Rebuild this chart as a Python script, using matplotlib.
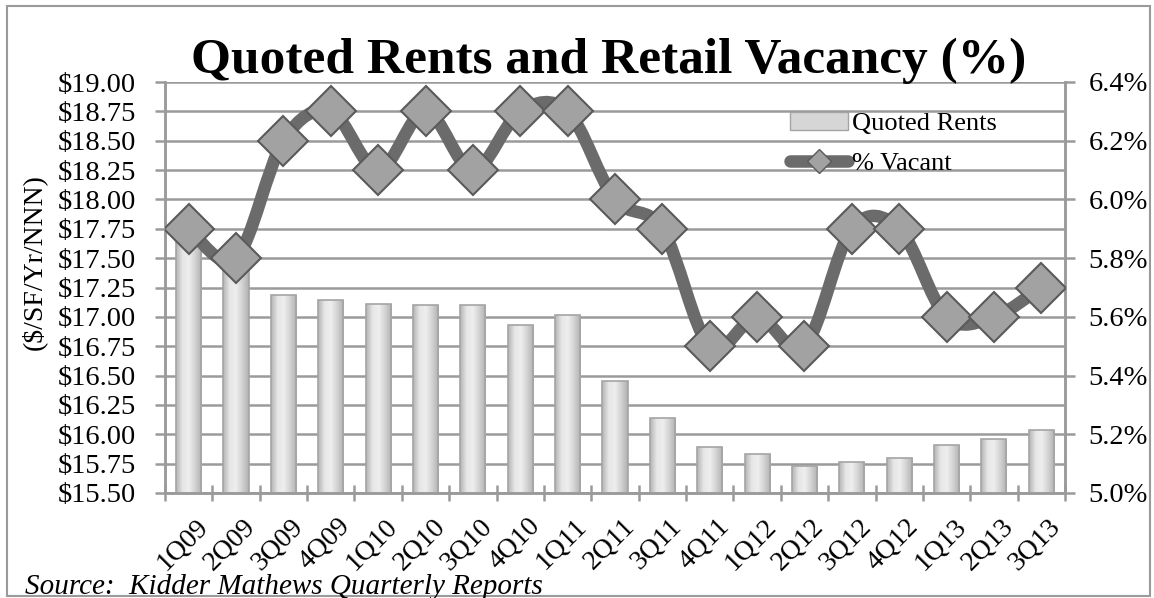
import numpy as np
import matplotlib.pyplot as plt
from matplotlib.path import Path
from matplotlib.patches import PathPatch, Patch, Rectangle
from matplotlib.lines import Line2D
from matplotlib.ticker import FuncFormatter, FixedLocator
from matplotlib.colors import LinearSegmentedColormap
from matplotlib.transforms import ScaledTranslation

# data
quarters = ['1Q09', '2Q09', '3Q09', '4Q09', '1Q10', '2Q10', '3Q10', '4Q10', '1Q11', '2Q11',
            '3Q11', '4Q11', '1Q12', '2Q12', '3Q12', '4Q12', '1Q13', '2Q13', '3Q13']
quoted_rents = [17.76, 17.54, 17.19, 17.14, 17.11, 17.10, 17.10, 16.93, 17.02, 16.45,
                16.14, 15.89, 15.83, 15.73, 15.76, 15.80, 15.91, 15.96, 16.04]
pct_vacant = [5.9, 5.8, 6.2, 6.3, 6.1, 6.3, 6.1, 6.3, 6.3, 6.0,
              5.9, 5.5, 5.6, 5.5, 5.9, 5.9, 5.6, 5.6, 5.7]

plt.rcParams['font.family'] = ['Liberation Serif', 'DejaVu Serif']

W, H = 1154, 598
fig = plt.figure(figsize=(W / 100, H / 100), dpi=100)
ax = fig.add_axes([165 / W, 1 - 493 / H, 900 / W, 411 / H])
ax2 = ax.twinx()

grid_c = '#9a9a9a'
x = np.arange(len(quarters))

# bars with a soft horizontal gradient
bars = ax.bar(x, np.array(quoted_rents) - 15.5, bottom=15.5, width=0.53, color='#d6d6d6',
              edgecolor='#a4a4a4', linewidth=1.2, zorder=3)
bar_cmap = LinearSegmentedColormap.from_list('bar', ['#b4b4b4', '#e6e6e6', '#eeeeee', '#d2d2d2', '#b0b0b0'])
grad = np.linspace(0, 1, 64).reshape(1, -1)
for b in bars:
    im = ax.imshow(grad, cmap=bar_cmap, aspect='auto', zorder=3.1,
                   extent=(b.get_x(), b.get_x() + b.get_width(), b.get_y(), b.get_y() + b.get_height()))
    im.set_clip_path(b)
    b.set_facecolor('none')
    b.set_zorder(3.2)
ax.set_xlim(-0.5, len(quarters) - 0.5)
ax.set_ylim(15.5, 19.0)
ax.set_yticks(np.arange(15.5, 19.01, 0.25))
ax.yaxis.set_major_formatter(FuncFormatter(lambda v, p: f'${v:.2f}'))
ax.grid(axis='y', color=grid_c, linewidth=1.8, zorder=0)
ax.set_axisbelow(True)

# smoothed vacancy line (bezier through the data points)
pts = np.column_stack([x, pct_vacant])
verts = [pts[0]]
codes = [Path.MOVETO]
for i in range(len(pts) - 1):
    p0 = pts[max(i - 1, 0)]
    p1 = pts[i]
    p2 = pts[i + 1]
    p3 = pts[min(i + 2, len(pts) - 1)]
    verts += [p1 + (p2 - p0) / 6, p2 - (p3 - p1) / 6, p2]
    codes += [Path.CURVE4] * 3
ax2.add_patch(PathPatch(Path(verts, codes), facecolor='none', edgecolor='#6b6b6b',
                        linewidth=9, capstyle='round', joinstyle='round', zorder=4))
ax2.plot(x, pct_vacant, linestyle='none', marker='D', markersize=25,
         markerfacecolor='#a2a2a2', markeredgecolor='#5a5a5a', markeredgewidth=1.5, zorder=5)
ax2.set_ylim(5.0, 6.4)
ax2.set_yticks(np.arange(5.0, 6.41, 0.2))
ax2.yaxis.set_major_formatter(FuncFormatter(lambda v, p: f'{v:.1f}%'))

# ticks & spines
for a in (ax, ax2):
    for s in a.spines.values():
        s.set_color(grid_c)
        s.set_linewidth(1.8)
    a.spines['top'].set_visible(False)
ax.tick_params(axis='y', labelsize=20.5, length=7, width=1.8, color=grid_c, pad=14)
ax2.tick_params(axis='y', labelsize=20.5, length=7, width=1.8, color=grid_c, pad=10)
ax.set_xticks(x)
ax.set_xticklabels(quarters, rotation=45, ha='right', va='top', rotation_mode='anchor', fontsize=20)
ax.tick_params(axis='x', length=0, pad=15)
shift = ScaledTranslation(0.07, 0, fig.dpi_scale_trans)
for lbl in ax.get_xticklabels():
    lbl.set_transform(lbl.get_transform() + shift)
ax.xaxis.set_minor_locator(FixedLocator(np.arange(-0.5, len(quarters), 1.0)))
ax.tick_params(axis='x', which='minor', direction='inout', length=12, width=1.8, color=grid_c)

ax.set_ylabel('($/SF/Yr/NNN)', fontsize=20)
ax.yaxis.set_label_coords(-0.131, 0.562)

# title and source
fig.text(609 / W, 1 - 73 / H, 'Quoted Rents and Retail Vacancy (%)', fontsize=37,
         fontweight='bold', ha='center', va='baseline')
fig.text(25 / W, 1 - 594 / H, 'Source:  Kidder Mathews Quarterly Reports', fontsize=21,
         style='italic', ha='left', va='baseline')

# legend
handles = [Patch(facecolor='#d6d6d6', edgecolor='#a4a4a4'),
           Line2D([], [], color='#6b6b6b', linewidth=9, marker='D', markersize=12,
                  markerfacecolor='#a2a2a2', markeredgecolor='#5a5a5a', solid_capstyle='round')]
fig.legend(handles, ['Quoted Rents', '% Vacant'], loc='upper left',
           bbox_to_anchor=(790 / W, 1 - 112 / H), frameon=False, fontsize=19,
           borderpad=0, borderaxespad=0,
           handlelength=2.2, handletextpad=0.15, labelspacing=0.6)

# outer border
fig.patches.append(Rectangle((7 / W, 2 / H), 1143 / W, 590 / H, transform=fig.transFigure,
                             fill=False, edgecolor='#9a9a9a', linewidth=1.5))

fig.savefig('out.png', dpi=100)
